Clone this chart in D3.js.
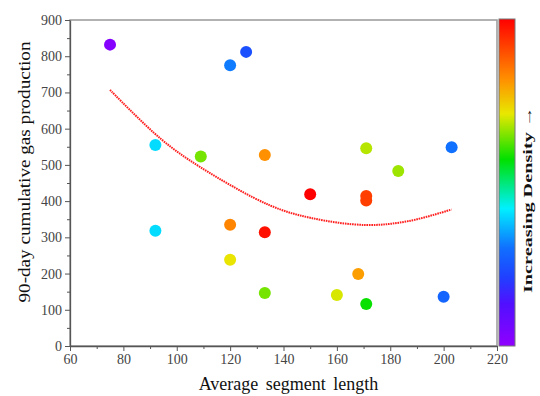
<!DOCTYPE html>
<html>
<head>
<meta charset="utf-8">
<script src="https://cdn.jsdelivr.net/npm/d3@7"></script>
<style>
  body { margin: 0; background: #fff; }
  svg text { font-family: "Liberation Serif", "Times New Roman", serif; }
</style>
</head>
<body>
<div id="chart"></div>
<script>
// values
const segLength = [75, 92, 92, 109, 120, 126, 120, 120, 133, 133, 133, 150, 160, 168, 171, 171, 171, 171, 183, 200, 203];
const gasProd   = [832, 555, 318, 523, 775, 812, 335, 238, 527, 314, 146, 419, 141, 199, 546, 414, 402, 116, 483, 136, 549];
const density   = [0.02, 0.40, 0.40, 0.64, 0.31, 0.24, 0.83, 0.715, 0.815, 0.98, 0.64, 1.0, 0.70, 0.80, 0.68, 0.92, 0.92, 0.575, 0.665, 0.28, 0.30];

// trend curve, read at a few x positions
const trendX = [75, 94, 109, 135, 150, 171, 187, 203];
const trendY = [707, 572, 493, 388, 354, 334, 345, 377];

const xTicks = [60, 80, 100, 120, 140, 160, 180, 200, 220];
const yTicks = [0, 100, 200, 300, 400, 500, 600, 700, 800, 900];

// rainbow used for the density bar
const rampStops  = [0, 0.13, 0.21, 0.30, 0.42, 0.57, 0.71, 0.815, 1];
const rampColors = ["#9000ff", "#5010ff", "#2040ff", "#1070ff", "#00f0ff", "#00e000", "#e8e800", "#ff9000", "#ff0000"];

const width = 540, height = 396;
const plot = {left: 70, right: 497, top: 20, bottom: 346};

const x = d3.scaleLinear().domain([60, 220]).range([plot.left, plot.right]);
const y = d3.scaleLinear().domain([0, 900]).range([plot.bottom, plot.top]);
const color = d3.scaleLinear().domain(rampStops).range(rampColors).interpolate(d3.interpolateRgb);

const svg = d3.select("#chart").append("svg")
  .attr("width", width).attr("height", height);

// plot frame
svg.append("rect")
  .attr("x", plot.left).attr("y", plot.top)
  .attr("width", plot.right - plot.left).attr("height", plot.bottom - plot.top)
  .attr("fill", "none").attr("stroke", "#999").attr("stroke-width", 1.5);

// minor ticks first
svg.append("g").attr("transform", `translate(0,${plot.bottom})`)
  .call(d3.axisBottom(x).tickValues(d3.range(70, 220, 20)).tickSize(3).tickFormat(""))
  .call(g => g.select(".domain").remove())
  .selectAll("line").attr("stroke", "#555");
svg.append("g").attr("transform", `translate(${plot.left},0)`)
  .call(d3.axisLeft(y).tickValues(d3.range(50, 900, 100)).tickSize(3).tickFormat(""))
  .call(g => g.select(".domain").remove())
  .selectAll("line").attr("stroke", "#555");

const xAxis = svg.append("g").attr("transform", `translate(0,${plot.bottom})`)
  .call(d3.axisBottom(x).tickValues(xTicks).tickSize(5).tickSizeOuter(0).tickPadding(3));
const yAxis = svg.append("g").attr("transform", `translate(${plot.left},0)`)
  .call(d3.axisLeft(y).tickValues(yTicks).tickSize(5).tickSizeOuter(0).tickPadding(3));

[xAxis, yAxis].forEach(g => {
  g.select(".domain").attr("stroke", "#555").attr("stroke-width", 1.3);
  g.selectAll(".tick line").attr("stroke", "#555");
  g.selectAll(".tick text")
    .attr("font-family", "Liberation Serif")
    .attr("font-size", 14).attr("fill", "#444");
});

// trend curve
svg.append("path")
  .datum(trendX.map((d, i) => [d, trendY[i]]))
  .attr("fill", "none")
  .attr("stroke", "#ff2020")
  .attr("stroke-width", 2)
  .attr("stroke-dasharray", "1.6,0.8")
  .attr("d", d3.line().x(d => x(d[0])).y(d => y(d[1])).curve(d3.curveCatmullRom));

// points
svg.append("g").selectAll("circle")
  .data(segLength.map((d, i) => ({len: d, gas: gasProd[i], dens: density[i]})))
  .join("circle")
  .attr("cx", d => x(d.len))
  .attr("cy", d => y(d.gas))
  .attr("r", 6)
  .attr("fill", d => color(d.dens));

// density bar
const barX = 499, barW = 16;
const grad = svg.append("defs").append("linearGradient")
  .attr("id", "ramp").attr("x1", 0).attr("y1", 1).attr("x2", 0).attr("y2", 0);
grad.selectAll("stop").data(rampStops).join("stop")
  .attr("offset", d => d)
  .attr("stop-color", (d, i) => rampColors[i]);
svg.append("rect")
  .attr("x", barX).attr("y", plot.top - 1)
  .attr("width", barW).attr("height", plot.bottom - plot.top + 1)
  .attr("fill", "url(#ramp)").attr("stroke", "#777").attr("stroke-width", 1);

svg.append("text")
  .attr("transform", "translate(532,200) rotate(-90)")
  .attr("text-anchor", "middle")
  .attr("font-size", 13).attr("font-weight", "bold")
  .attr("textLength", 186).attr("lengthAdjust", "spacingAndGlyphs")
  .attr("fill", "#111")
  .text("Increasing Density \u2192");

// axis titles
svg.append("text")
  .attr("x", (plot.left + plot.right) / 2 + 5).attr("y", 390)
  .attr("text-anchor", "middle")
  .attr("font-size", 18).attr("fill", "#111")
  .attr("word-spacing", 3)
  .text("Average segment length");

svg.append("text")
  .attr("transform", "translate(30,172) rotate(-90)")
  .attr("text-anchor", "middle")
  .attr("font-size", 16).attr("fill", "#111")
  .attr("textLength", 261).attr("lengthAdjust", "spacingAndGlyphs")
  .text("90-day cumulative gas production");
</script>
</body>
</html>
